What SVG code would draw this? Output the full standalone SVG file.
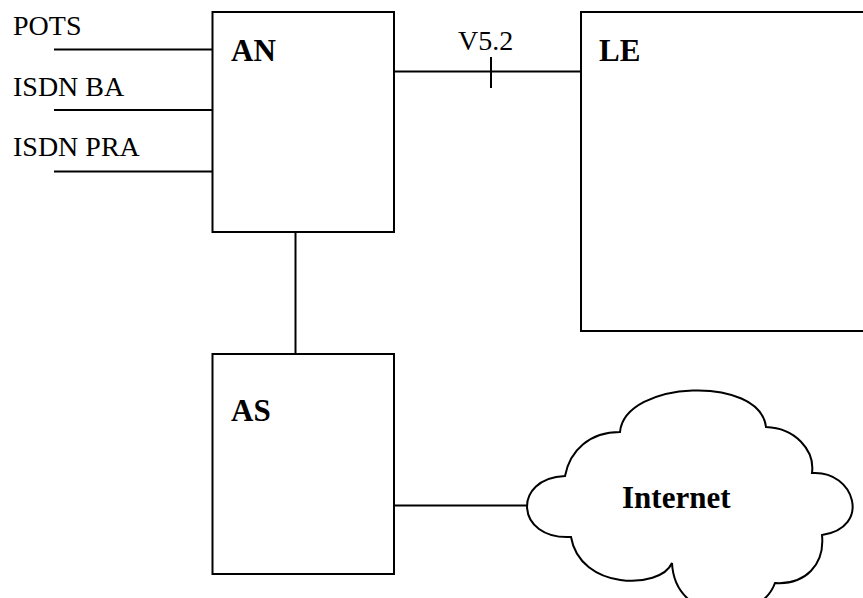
<svg xmlns="http://www.w3.org/2000/svg" width="863" height="598" viewBox="0 0 863 598">
<style>
.box{fill:#fff;stroke:#000;stroke-width:2}
.ln{fill:none;stroke:#000;stroke-width:2}
.lbl{font-family:"Liberation Serif","Times New Roman",serif;font-size:28px;fill:#000}
.bl{font-family:"Liberation Serif","Times New Roman",serif;font-size:31px;font-weight:bold;fill:#000}
</style>
<rect width="863" height="598" fill="#fff"/>
<g id="connectors">
<line class="ln" x1="54" y1="49.5" x2="212" y2="49.5"/>
<line class="ln" x1="54" y1="110" x2="212" y2="110"/>
<line class="ln" x1="54" y1="171.5" x2="212" y2="171.5"/>
<line class="ln" x1="394" y1="71.5" x2="581" y2="71.5"/>
<line class="ln" x1="491" y1="57" x2="491" y2="88"/>
<line class="ln" x1="295.5" y1="232" x2="295.5" y2="354"/>
<line class="ln" x1="394" y1="505.5" x2="528" y2="505.5"/>
</g>
<g id="labels">
<text class="lbl" x="13" y="35">POTS</text>
<text class="lbl" x="13" y="96">ISDN BA</text>
<text class="lbl" x="13" y="156">ISDN PRA</text>
<text class="lbl" x="458" y="50">V5.2</text>
</g>
<g id="AN">
<rect class="box" x="212.5" y="12" width="181.5" height="220"/>
<text class="bl" x="231" y="61">AN</text>
</g>
<g id="LE">
<rect class="box" x="581" y="12" width="300" height="319"/>
<text class="bl" x="599" y="61">LE</text>
</g>
<g id="AS">
<rect class="box" x="212.5" y="354" width="181.5" height="220"/>
<text class="bl" x="231" y="421">AS</text>
</g>
<g id="Internet">
<path class="box" d="M620,432 C625,380 760,375 766,427 C795,428 815,450 812,473 C855,470 872,528 822,535 C825,565 805,585 775,583 C760,625 675,625 672,563 C660,590 580,590 571,537 C515,540 512,478 565,476 C570,450 590,432 620,432 Z"/>
<text class="bl" x="622" y="508">Internet</text>
</g>
</svg>
